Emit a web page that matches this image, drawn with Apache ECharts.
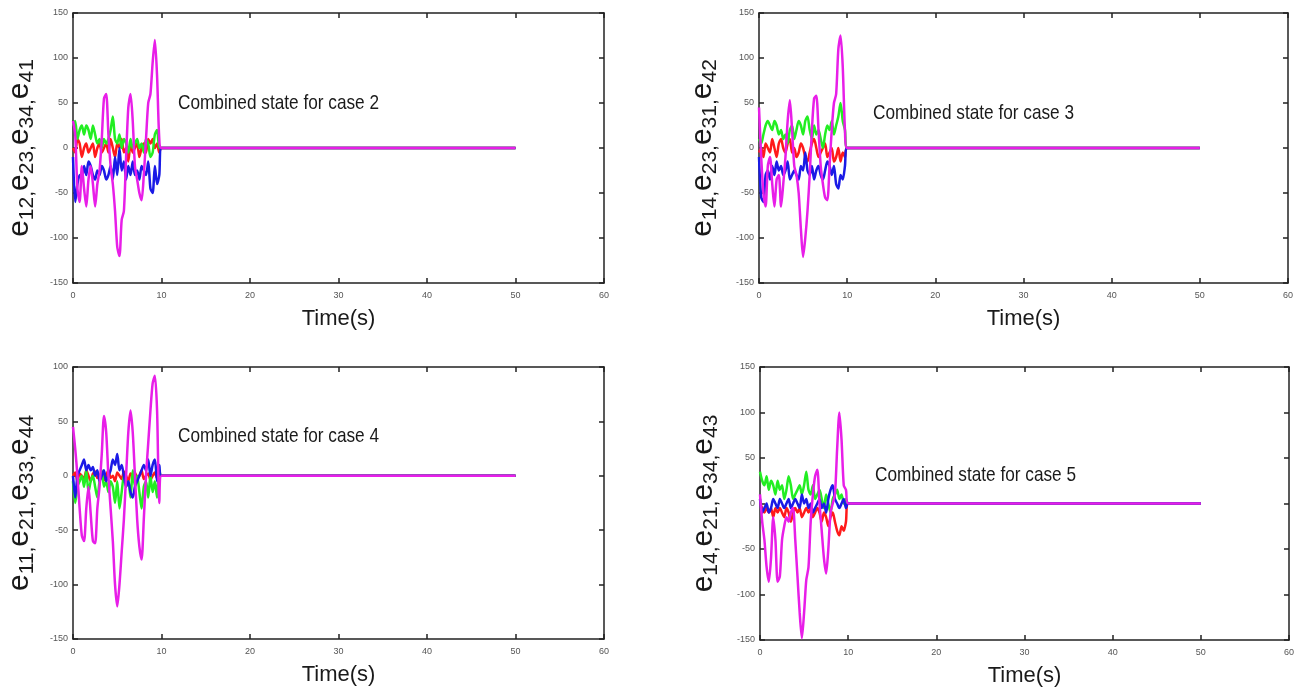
<!DOCTYPE html>
<html>
<head>
<meta charset="utf-8">
<script src="https://cdn.jsdelivr.net/npm/echarts@6/dist/echarts.min.js"></script>
<style>
  html, body { margin: 0; padding: 0; background: #fff; }
  #main { width: 1308px; height: 693px; }
</style>
</head>
<body>
<div id="main"></div>
<script>
// time stamps (s): oscillating part 0..10, then settled at 0 until 50
var time = [0,0.25,0.5,0.75,1,1.25,1.5,1.75,2,2.25,2.5,2.75,3,3.25,3.5,3.75,4,4.25,4.5,4.75,5,5.25,5.5,5.75,6,6.25,6.5,6.75,7,7.25,7.5,7.75,8,8.25,8.5,8.75,9,9.25,9.5,9.75,10,50];

// case 2
var case2Red     = [0,-5,10,5,-10,0,5,-5,0,5, -10,0,5,-5,0,5,-5,10,0,-10, 5,0,10,-5,0,-15,5,-5,0,5, -10,0,5,-5,10,5,10,0,5,-5, 0,0];
var case2Green   = [25,30,10,20,25,15,25,20,10,25, 15,5,10,0,10,5,10,20,35,10, 5,15,0,10,5,-5,10,0,5,10, 0,5,-5,10,5,-10,-5,15,20,0, 0,0];
var case2Blue    = [-10,-60,-40,-30,-35,-20,-30,-15,-20,-30, -35,-25,-30,-20,-25,-35,-30,-20,-35,-10, -30,0,-25,-15,-35,-20,-30,-15,-30,-25, -35,-20,-25,-30,-15,-45,-50,-20,-40,-30, 0,0];
var case2Magenta = [30,15,-45,-60,-20,-45,-65,-35,-20,-40, -65,-40,-25,10,55,60,15,-20,-40,-70, -110,-120,-80,-70,-10,45,60,30,-20,-35, -50,-58,-30,10,50,60,95,120,80,10, 0,0];

// case 3
var case3Red     = [-5,0,-10,5,0,-5,10,0,-10,5, 10,0,-5,5,10,-5,0,-10,-5,5, 0,-10,-15,-5,5,10,0,-10,-5,0, 5,-10,-5,0,-15,-10,0,-15,-5,-10, 0,0];
var case3Green   = [10,5,15,25,30,25,20,30,25,15, 20,10,15,5,20,25,10,20,30,25, 15,30,35,20,10,25,15,20,10,0, 15,25,20,30,15,25,35,50,30,20, 0,0];
var case3Blue    = [-10,-55,-60,-30,-25,-35,-20,-30,-15,-25, -20,-30,-25,-15,-35,-30,-25,-30,-35,-20, -25,-5,-25,-30,-20,-35,-25,-20,-30,-35, -25,-15,-20,-30,-20,-40,-45,-30,-35,-20, 0,0];
var case3Magenta = [45,-10,-50,-65,-20,-10,-40,-65,-35,-30, -65,-40,-10,30,53,20,-20,-30,-50,-90, -121,-100,-70,-30,20,55,58,20,-20,-40, -55,-58,-20,20,50,60,110,125,90,20, 0,0];

// case 4
var case4Red     = [0,3,-5,2,0,-3,5,0,-5,2, 4,-2,0,3,-4,0,5,-2,0,-5, 3,0,-3,4,0,-5,2,0,3,-2, 0,5,-3,0,2,-4,0,3,-2,0, 0,0];
var case4Green   = [-5,-25,-10,-5,0,-10,5,-15,-5,0, -10,-20,-5,5,-10,-5,-15,-5,-10,-25, -5,-30,-15,0,-10,-5,-20,5,-10,0, -15,-30,-10,-5,-20,0,-15,-5,-20,5, 0,0];
var case4Blue    = [0,-20,0,5,10,15,5,10,5,8, 0,5,-5,0,5,-5,0,5,15,10, 20,5,10,0,-10,-5,-15,-20,-10,-5, 0,5,10,5,15,0,10,15,-5,10, 0,0];
var case4Magenta = [45,25,0,-30,-55,-60,-30,-10,-35,-60, -62,-30,-10,20,55,40,0,-30,-60,-100, -120,-100,-70,-40,0,40,60,40,0,-40, -65,-77,-40,0,30,60,85,92,60,-25, 0,0];

// case 5
var case5Red     = [0,-5,-10,-5,-10,-5,-15,-5,-10,-5, -10,-15,-5,-10,-20,-10,-5,-10,-5,-15, -10,-5,-10,-5,-15,-10,-5,-10,-20,-10, -15,-25,-15,-10,-20,-30,-35,-25,-30,-20, 0,0];
var case5Green   = [35,25,20,30,15,25,20,10,25,15, 20,5,15,30,20,5,10,15,20,10, 20,35,15,10,20,5,10,15,5,-5, 10,0,-10,5,10,15,5,10,0,5, 0,0];
var case5Blue    = [5,-10,-5,0,-10,-5,5,0,-5,5, 0,-5,0,5,-5,0,5,0,-5,10, 0,5,-5,0,-10,-5,0,5,-5,0, -10,5,15,20,5,0,-5,0,5,-5, 0,0];
var case5Magenta = [10,-20,-40,-70,-86,-60,-15,-40,-86,-80, -40,-25,-15,-20,-10,-5,-40,-80,-120,-148, -120,-84,-70,-20,10,30,37,0,-30,-60, -77,-50,-10,0,10,60,100,70,20,15, 0,0];

var panelTitles = ['Combined state for case 2', 'Combined state for case 3', 'Combined state for case 4', 'Combined state for case 5'];
var panelSubs = [['12','23','34','41'], ['14','23','31','42'], ['11','21','33','44'], ['14','21','34','43']];
var yMax = [150, 150, 100, 150];

var panelData = [
  [case2Red, case2Green, case2Blue, case2Magenta],
  [case3Red, case3Green, case3Blue, case3Magenta],
  [case4Red, case4Green, case4Blue, case4Magenta],
  [case5Red, case5Green, case5Blue, case5Magenta]
];
var lineColors = ['#ff1a1a', '#22ee22', '#1a1ae6', '#e81ee8'];

var grids = [
  {left: 73, top: 13, width: 531, height: 270, outerBoundsMode: 'none'},
  {left: 759, top: 13, width: 529, height: 270, outerBoundsMode: 'none'},
  {left: 73, top: 367, width: 531, height: 272, outerBoundsMode: 'none'},
  {left: 760, top: 367, width: 529, height: 273, outerBoundsMode: 'none'}
];
// left edge / vertical centre of the in-plot caption
var titlePos = [[178, 103], [873, 113], [178, 436], [875, 475]];

function yName(subs) {
  return subs.map(function (s) { return '{e|e}{s|' + s + '}'; }).join('{s|,}');
}

var axisLine = {show: true, onZero: false, lineStyle: {color: '#222', width: 1.5}};
var tick = {show: true, inside: true, length: 5, lineStyle: {color: '#222', width: 1.5}};

var xAxes = [], yAxes = [], series = [], captions = [];
grids.forEach(function (g, i) {
  xAxes.push({
    gridIndex: i, type: 'value', min: 0, max: 60, interval: 10, position: 'bottom',
    axisLine: axisLine, axisTick: tick, splitLine: {show: false},
    axisLabel: {fontSize: 9, color: '#555', margin: 8, fontFamily: 'Arial'},
    name: 'Time(s)', nameLocation: 'middle', nameGap: 25,
    nameTextStyle: {fontFamily: 'Arial', fontSize: 22, color: '#1a1a1a'}
  });
  xAxes.push({
    gridIndex: i, type: 'value', min: 0, max: 60, interval: 10, position: 'top',
    axisLine: axisLine, axisTick: tick, axisLabel: {show: false}, splitLine: {show: false}
  });
  yAxes.push({
    gridIndex: i, type: 'value', min: -150, max: yMax[i], interval: 50, position: 'left',
    axisLine: axisLine, axisTick: tick, splitLine: {show: false},
    axisLabel: {fontSize: 9, color: '#555', margin: 5, fontFamily: 'Arial'},
    name: yName(panelSubs[i]), nameLocation: 'middle', nameRotate: 90, nameGap: i % 2 ? 27 : 24,
    nameTextStyle: {
      color: '#1a1a1a',
      rich: {
        e: {fontFamily: 'Arial', fontSize: 30, color: '#1a1a1a', lineHeight: 30, verticalAlign: 'top'},
        s: {fontFamily: 'Arial', fontSize: 21, color: '#1a1a1a', lineHeight: 44}
      }
    }
  });
  yAxes.push({
    gridIndex: i, type: 'value', min: -150, max: yMax[i], interval: 50, position: 'right',
    axisLine: axisLine, axisTick: tick, axisLabel: {show: false}, splitLine: {show: false}
  });
  panelData[i].forEach(function (vals, k) {
    series.push({
      type: 'line', xAxisIndex: i * 2, yAxisIndex: i * 2,
      data: time.map(function (t, j) { return [t, vals[j]]; }),
      showSymbol: false, smooth: 0.25,
      lineStyle: {color: lineColors[k], width: 2.5},
      itemStyle: {color: lineColors[k]}
    });
  });
  // caption is a condensed face, so squeeze Arial horizontally
  captions.push({
    type: 'text', x: titlePos[i][0], y: titlePos[i][1], scaleX: 0.82, z: 10,
    style: {text: panelTitles[i], fontFamily: 'Arial', fontSize: 21, fill: '#1a1a1a', verticalAlign: 'middle'}
  });
});

var chart = echarts.init(document.getElementById('main'));
chart.setOption({
  animation: false,
  backgroundColor: '#fff',
  grid: grids,
  xAxis: xAxes,
  yAxis: yAxes,
  series: series,
  graphic: captions
});
</script>
</body>
</html>
